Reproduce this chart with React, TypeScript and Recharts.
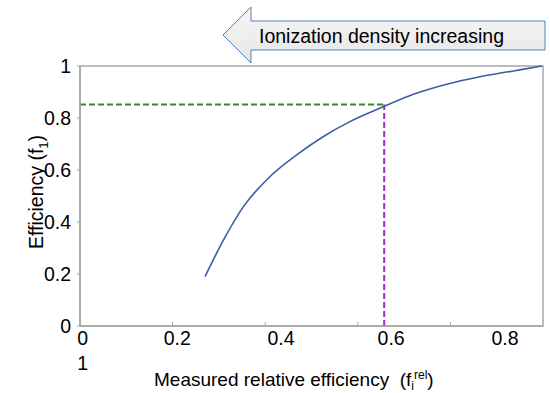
import { LineChart, Line, XAxis, YAxis, ReferenceLine, ReferenceArea } from 'recharts';

const relEff = [0.270, 0.310, 0.353, 0.410, 0.468, 0.525, 0.583, 0.655, 0.720, 0.792, 0.864, 0.936, 0.998];
const efficiency = [0.190, 0.331, 0.459, 0.574, 0.658, 0.728, 0.786, 0.843, 0.891, 0.930, 0.959, 0.981, 1.0];

// dashed read-out lines
const readX = 0.657;
const readY = 0.852;

// the source axis has its tick marks and its labels at different places
const xTickMarks = [0.2, 0.4, 0.6, 0.8];
const xLabelAt = [0.006, 0.21, 0.434, 0.672, 0.918];
const xLabels = ['0', '0.2', '0.4', '0.6', '0.8'];
const yTicks = [0, 0.2, 0.4, 0.6, 0.8, 1];

const curve = relEff.map((x, i) => ({ x, y: efficiency[i] }));
const xAxisTicks = [...xTickMarks, ...xLabelAt].sort((a, b) => a - b);

const FONT = 'Liberation Sans, Arial, sans-serif';

const XTick = (props: any) => {
    const { x, y, payload } = props;
    const li = xLabelAt.indexOf(payload.value);
    if (li < 0) {
        return <line x1={x} x2={x} y1={y} y2={y - 4} stroke="#a6a6a6" strokeWidth={1} />;
    }
    return (
        <g>
            <text x={x} y={y + 19} textAnchor="middle" fontSize={19.5} fill="#000" fontFamily={FONT}>
                {xLabels[li]}
            </text>
            {li === 0 && (
                <text x={x} y={y + 44} textAnchor="middle" fontSize={19.5} fill="#000" fontFamily={FONT}>
                    1
                </text>
            )}
        </g>
    );
};

const App = () => {
    return (
        <div style={{ position: 'absolute', left: 0, top: 0, width: 550, height: 393, background: '#fff' }}>
            <LineChart width={550} height={393} margin={{ top: 66, right: 7, bottom: 17, left: 0 }}>
                <XAxis
                    dataKey="x"
                    type="number"
                    domain={[0, 1]}
                    ticks={xAxisTicks}
                    interval={0}
                    height={50}
                    tickSize={0}
                    tickMargin={0}
                    tickLine={false}
                    tick={<XTick />}
                    axisLine={{ stroke: '#a6a6a6', strokeWidth: 1.5 }}
                    label={{
                        content: () => (
                            <text x={154} y={386} textAnchor="start" fontSize={19} fill="#000" fontFamily={FONT}>
                                Measured relative efficiency{'\u00a0\u00a0'}(f
                                <tspan fontSize={12} dy={4}>i</tspan>
                                <tspan fontSize={12} dy={-11}>rel</tspan>
                                <tspan dy={7}>)</tspan>
                            </text>
                        ),
                    }}
                />
                <YAxis
                    type="number"
                    domain={[0, 1]}
                    ticks={yTicks}
                    width={80}
                    tickSize={3}
                    tickMargin={6}
                    tick={{ fontSize: 19.5, fill: '#000', fontFamily: FONT }}
                    axisLine={{ stroke: '#a6a6a6', strokeWidth: 1.5 }}
                    tickLine={{ stroke: '#a6a6a6' }}
                    label={{
                        content: () => (
                            <text
                                x={43}
                                y={192}
                                transform="rotate(-90 43 192)"
                                textAnchor="middle"
                                fontSize={19.5}
                                fill="#000"
                                fontFamily={FONT}
                            >
                                Efficiency (f<tspan fontSize={13} dy={5}>1</tspan>
                                <tspan dy={-5}>)</tspan>
                            </text>
                        ),
                    }}
                />
                <ReferenceArea x1={0} x2={1} y1={0} y2={1} fill="none" stroke="#a6a6a6" strokeWidth={1.5} />
                <ReferenceLine
                    segment={[{ x: 0, y: readY }, { x: readX, y: readY }]}
                    stroke="#2e8b2e"
                    strokeWidth={2}
                    strokeDasharray="6 3"
                />
                <ReferenceLine
                    segment={[{ x: readX, y: 0 }, { x: readX, y: readY }]}
                    stroke="#9b30c8"
                    strokeWidth={2}
                    strokeDasharray="6 3"
                />
                <Line
                    data={curve}
                    dataKey="y"
                    type="monotone"
                    stroke="#3b5fa3"
                    strokeWidth={1.6}
                    dot={false}
                    isAnimationActive={false}
                />
            </LineChart>
            <svg width={550} height={70} style={{ position: 'absolute', left: 0, top: 0 }}>
                <defs>
                    <linearGradient id="arrowFill" x1="0" y1="0" x2="0" y2="1">
                        <stop offset="0" stopColor="#f7f7f7" />
                        <stop offset="1" stopColor="#e6e6e6" />
                    </linearGradient>
                </defs>
                <polygon
                    points="223,35 251,7 251,21 545,21 545,50 251,50 251,63"
                    fill="url(#arrowFill)"
                    stroke="#4f81bd"
                    strokeWidth={1}
                />
                <text x={259} y={43} fontSize={19.5} fill="#000" fontFamily={FONT}>
                    Ionization density increasing
                </text>
            </svg>
        </div>
    );
};

export default App;
